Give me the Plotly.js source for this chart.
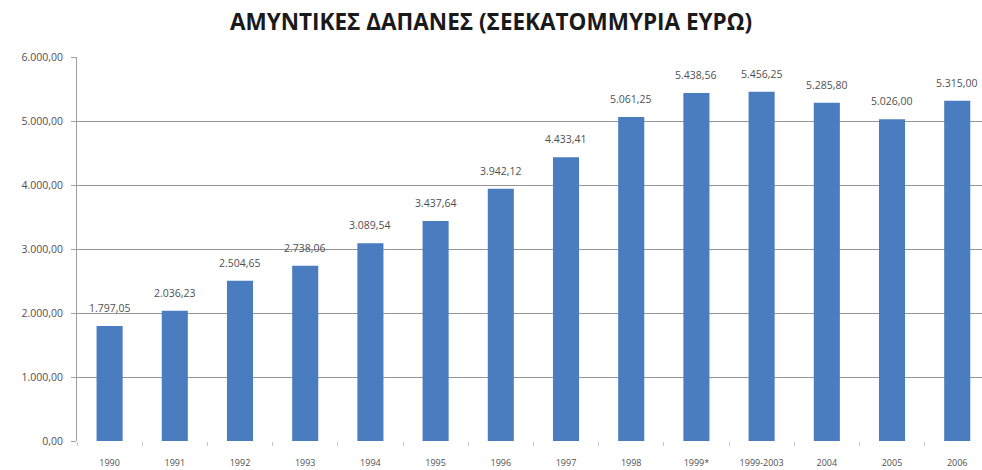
<!DOCTYPE html>
<html>
<head>
<meta charset="utf-8">
<script src="https://cdn.plot.ly/plotly-3.0.1.min.js"></script>
<style>html,body{margin:0;padding:0;background:#fff;}#chart{width:982px;height:470px;}</style>
</head>
<body>
<div id="chart"></div>
<script>
var categories = ["1990","1991","1992","1993","1994","1995","1996","1997","1998","1999*","1999-2003","2004","2005","2006"];
var values = [1797.05,2036.23,2504.65,2738.06,3089.54,3437.64,3942.12,4433.41,5061.25,5438.56,5456.25,5285.80,5026.00,5315.00];
var titleText = "ΑΜΥΝΤΙΚΕΣ ΔΑΠΑΝΕΣ (ΣΕΕΚΑΤΟΜΜΥΡΙΑ ΕΥΡΩ)";

function fmt(v){
  var s = v.toFixed(2).split(".");
  var i = s[0].replace(/\B(?=(\d{3})+(?!\d))/g, ".");
  return i + "," + s[1];
}

var trace = {
  type: "bar",
  x: categories,
  y: values,
  marker: {color: "#4a7dbf"},
  width: 0.4,
  hoverinfo: "none"
};

var annotations = categories.map(function(c, i){
  return {x: i, y: values[i], xref: "x", yref: "y", text: fmt(values[i]),
    showarrow: false, yanchor: "bottom", yshift: 9,
    font: {family: "Open Sans, sans-serif", size: 10.5, color: "#505050"}};
});

var layout = {
  width: 982, height: 470,
  margin: {l: 77, r: 0, t: 57, b: 29},
  paper_bgcolor: "#fff", plot_bgcolor: "#fff",
  separators: ",.",
  title: {text: "<b>" + titleText + "</b>", x: 0.5, xanchor: "center", y: 0.953, yanchor: "middle",
    font: {family: "Open Sans, sans-serif", size: 22.5, color: "#1a1a1a"}},
  showlegend: false,
  xaxis: {type: "category", range: [-0.5, 13.38], tickson: "boundaries", ticks: "outside", ticklen: 4,
    tickcolor: "#c8c8c8", showline: false, showgrid: false, ticklabelstandoff: 15,
    tickfont: {family: "Open Sans, sans-serif", size: 9, color: "#505050"}},
  yaxis: {range: [0, 6000], dtick: 1000, tickformat: ",.2f", ticks: "outside", ticklen: 5,
    tickcolor: "#a0a0a0", showline: true, linecolor: "#a0a0a0", linewidth: 1, ticklabelstandoff: 6,
    gridcolor: "#959595", gridwidth: 1, zeroline: false,
    tickfont: {family: "Open Sans, sans-serif", size: 10.5, color: "#505050"}},
  annotations: annotations,
  bargap: 0.6
};

Plotly.newPlot("chart", [trace], layout, {displayModeBar: false, staticPlot: true});
</script>
</body>
</html>
